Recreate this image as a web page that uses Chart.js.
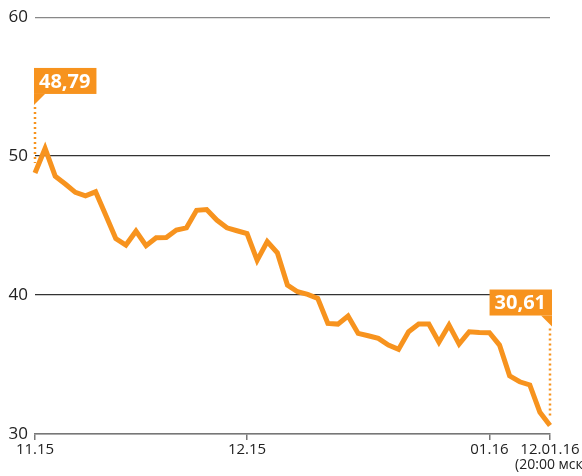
<!DOCTYPE html>
<html>
<head>
<meta charset="utf-8">
<script src="https://cdn.jsdelivr.net/npm/chart.js@4/dist/chart.umd.min.js"></script>
<style>
  html, body { margin: 0; padding: 0; background: #fff; }
  #wrap { width: 582px; height: 476px; }
</style>
</head>
<body>
<div id="wrap"><canvas id="rateChart"></canvas></div>
<script>
// daily values, 11.15 -> 12.01.16
const prices = [
  48.79, 50.55, 48.56, 47.99, 47.39, 47.14, 47.43, 45.76, 44.07, 43.60,
  44.60, 43.55, 44.12, 44.15, 44.68, 44.84, 46.10, 46.16, 45.40, 44.84,
  44.63, 44.43, 42.50, 43.85, 43.04, 40.72, 40.24, 40.05, 39.76, 37.96,
  37.91, 38.49, 37.24, 37.07, 36.88, 36.40, 36.09, 37.36, 37.91, 37.91,
  36.60, 37.84, 36.47, 37.36, 37.31, 37.29, 36.40, 34.19, 33.76, 33.53,
  31.56, 30.61
];
const xTickIndex = [0, 21, 45, 51];
const xTickLabels = [['11.15'], ['12.15'], ['01.16'], ['12.01.16', '(20:00 мск)']];
const yTicks = [30, 40, 50, 60];
const firstLabel = '48,79';
const lastLabel = '30,61';

const ORANGE = '#F7931E';
const FONT = "'Open Sans', sans-serif";

// подписи по оси X и плашки со значениями
const overlay = {
  id: 'overlay',
  afterDraw(chart) {
    const c = chart.ctx;
    const xs = chart.scales.x;
    const ys = chart.scales.y;
    const bottom = chart.chartArea.bottom;

    c.save();
    c.fillStyle = '#222';
    c.textAlign = 'center';
    c.textBaseline = 'top';
    xTickIndex.forEach((idx, i) => {
      const x = xs.getPixelForValue(idx);
      const lines = xTickLabels[i];
      c.font = '15px ' + FONT;
      c.fillText(lines[0], x, bottom + 8);
      if (lines[1]) {
        c.font = '14px ' + FONT;
        c.fillText(lines[1], x + 1, bottom + 24);
      }
    });

    function tag(idx, text, side, rise) {
      const px = xs.getPixelForValue(idx);
      const py = ys.getPixelForValue(prices[idx]);
      c.font = "bold 20px 'Open Sans', sans-serif";
      const w = c.measureText(text).width + 11;
      const h = 26;
      const boxBottom = py - rise;
      const left = side === 'left' ? px - 1 : px + 2 - w;
      c.fillStyle = ORANGE;
      c.fillRect(left, boxBottom - h, w, h);
      c.beginPath();
      if (side === 'left') {
        c.moveTo(px - 1, boxBottom);
        c.lineTo(px + 10, boxBottom);
        c.lineTo(px - 1, boxBottom + 11);
      } else {
        c.moveTo(px + 2, boxBottom);
        c.lineTo(px - 9, boxBottom);
        c.lineTo(px + 2, boxBottom + 11);
      }
      c.closePath();
      c.fill();
      c.fillStyle = '#fff';
      c.textAlign = 'left';
      c.textBaseline = 'middle';
      c.fillText(text, left + 5, boxBottom - h / 2 + 1);

      c.strokeStyle = ORANGE;
      c.lineWidth = 2.5;
      c.setLineDash([2, 3]);
      c.beginPath();
      c.moveTo(px, boxBottom + 13);
      c.lineTo(px, py - 10);
      c.stroke();
      c.setLineDash([]);
    }
    tag(0, firstLabel, 'left', 79);
    tag(prices.length - 1, lastLabel, 'right', 110);
    c.restore();
  }
};

new Chart(document.getElementById('rateChart'), {
  type: 'line',
  data: {
    datasets: [{
      data: prices.map((v, i) => ({ x: i, y: v })),
      borderColor: ORANGE,
      borderWidth: 5,
      pointRadius: 0,
      tension: 0,
      clip: false
    }]
  },
  options: {
    responsive: true,
    maintainAspectRatio: false,
    animation: false,
    layout: { padding: { top: 17, right: 32, left: 0, bottom: 0 } },
    plugins: { legend: { display: false }, tooltip: { enabled: false } },
    scales: {
      x: {
        type: 'linear',
        min: 0,
        max: prices.length - 1,
        afterBuildTicks: s => { s.ticks = xTickIndex.map(v => ({ value: v })); },
        afterFit: s => { s.height = 42; },
        ticks: { display: false },
        grid: { drawOnChartArea: false, drawTicks: true, tickLength: 6, color: '#777', lineWidth: 1.5 },
        border: { display: true, color: '#777', width: 1.5 }
      },
      y: {
        min: 30,
        max: 60,
        afterBuildTicks: s => { s.ticks = yTicks.map(v => ({ value: v })); },
        afterFit: s => { s.width = 35; },
        ticks: { color: '#222', padding: 7, font: { family: FONT, size: 17 } },
        grid: {
          drawTicks: false,
          color: ctx => (ctx.tick.value === 40 || ctx.tick.value === 50) ? '#333' : '#888',
          lineWidth: 1.3
        },
        border: { display: false }
      }
    }
  },
  plugins: [overlay]
});
</script>
</body>
</html>
